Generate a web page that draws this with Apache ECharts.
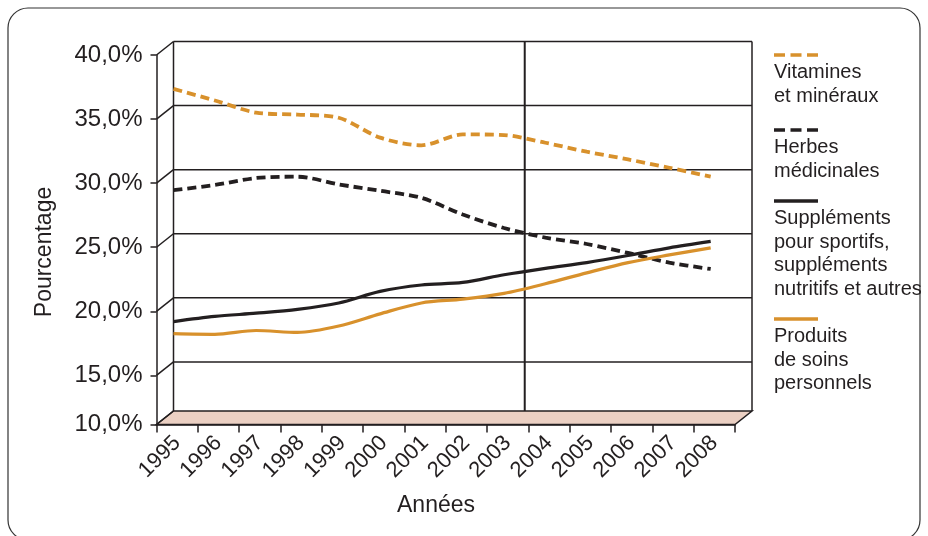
<!DOCTYPE html>
<html>
<head>
<meta charset="utf-8">
<script src="https://cdn.jsdelivr.net/npm/echarts@6/dist/echarts.min.js"></script>
<style>
  html, body { margin: 0; padding: 0; background: #ffffff; }
  #chart { width: 928px; height: 536px; }
</style>
</head>
<body>
<div id="chart"></div>
<script>
// Years on the horizontal axis
const years = ['1995', '1996', '1997', '1998', '1999', '2000', '2001',
               '2002', '2003', '2004', '2005', '2006', '2007', '2008'];

// Share of each product family (%)
const vitamines   = [36.3, 35.4, 34.45, 34.3, 34.05, 32.5, 31.9, 32.75, 32.7, 32.1, 31.4, 30.8, 30.15, 29.45];
const herbes      = [28.4, 28.8, 29.35, 29.45, 28.85, 28.35, 27.8, 26.5, 25.45, 24.7, 24.2, 23.5, 22.75, 22.25];
const supplements = [18.15, 18.55, 18.8, 19.1, 19.6, 20.5, 21.0, 21.2, 21.8, 22.3, 22.75, 23.3, 23.9, 24.4];
const produits    = [17.2, 17.15, 17.45, 17.3, 17.8, 18.75, 19.6, 19.9, 20.35, 21.1, 21.95, 22.75, 23.35, 23.9];

// Vertical scale: the floor of the box carries the "10,0%" mark
const yFloor = 11.17;
const yMax = 40;
const yTickValues = [yFloor, 15, 20, 25, 30, 35, 40];
const yTickLabels = ['10,0%', '15,0%', '20,0%', '25,0%', '30,0%', '35,0%', '40,0%'];

// Axis titles
const xTitle = 'Années';
const yTitle = 'Pourcentage';

// Position of the vertical divider on the back wall (in year units)
const dividerYear = 2003.5;

const INK = '#231f20';
const ORANGE = '#d8912c';
const FLOOR = '#ebd0c3';
const FONT = '"Liberation Sans", Arial, Helvetica, sans-serif';

// Back wall and front plane of the pseudo-3D box
const back  = { left: 173.5, top: 41.5, width: 578.5, height: 369.5 };
const depth = { dx: 17, dy: 13.5 };
const front = { left: back.left - depth.dx, top: back.top + depth.dy, width: back.width, height: back.height };

const yearNums = years.map(Number);
const pairs = arr => yearNums.map((y, i) => [y, arr[i]]);

const chart = echarts.init(document.getElementById('chart'), null, { renderer: 'canvas' });

const dashed = [9, 5];

chart.setOption({
  animation: false,
  backgroundColor: '#ffffff',
  textStyle: { fontFamily: FONT, color: INK },
  grid: [
    { left: back.left, top: back.top, width: back.width, height: back.height },
    { left: front.left, top: front.top, width: front.width, height: front.height }
  ],
  xAxis: [
    { gridIndex: 0, type: 'value', min: 1995, max: 2009, show: false },
    {
      gridIndex: 1, type: 'category', data: years, boundaryGap: true,
      axisLine: { show: true, lineStyle: { color: INK, width: 1.5 } },
      axisTick: { show: true, alignWithLabel: false, length: 8, lineStyle: { color: INK, width: 1.5 } },
      axisLabel: { rotate: 45, margin: 15, fontSize: 22, color: INK, fontFamily: FONT, interval: 0 },
      splitLine: { show: false }
    }
  ],
  yAxis: [
    { gridIndex: 0, type: 'value', min: yFloor, max: yMax, show: false },
    {
      gridIndex: 1, type: 'value', min: yFloor, max: yMax,
      axisLine: { show: true, lineStyle: { color: INK, width: 1.5 } },
      axisTick: { show: true, length: 6, customValues: yTickValues, lineStyle: { color: INK, width: 1.5 } },
      axisLabel: {
        customValues: yTickValues, margin: 14, fontSize: 24, color: INK, fontFamily: FONT,
        padding: [0, 0, 14, 0],
        formatter: v => {
          const i = yTickValues.findIndex(t => Math.abs(t - v) < 1e-6);
          return i >= 0 ? yTickLabels[i] : '';
        }
      },
      splitLine: { show: false }
    }
  ],
  series: [
    { name: 'Vitamines et minéraux', type: 'line', xAxisIndex: 0, yAxisIndex: 0, data: pairs(vitamines),
      smooth: 0.3, symbol: 'none', z: 5, lineStyle: { color: ORANGE, width: 3.8, type: dashed } },
    { name: 'Herbes médicinales', type: 'line', xAxisIndex: 0, yAxisIndex: 0, data: pairs(herbes),
      smooth: 0.3, symbol: 'none', z: 5, lineStyle: { color: INK, width: 3.8, type: dashed } },
    { name: 'Suppléments pour sportifs, suppléments nutritifs et autres', type: 'line', xAxisIndex: 0, yAxisIndex: 0,
      data: pairs(supplements), smooth: 0.3, symbol: 'none', z: 5, lineStyle: { color: INK, width: 3.2 } },
    { name: 'Produits de soins personnels', type: 'line', xAxisIndex: 0, yAxisIndex: 0, data: pairs(produits),
      smooth: 0.3, symbol: 'none', z: 5, lineStyle: { color: ORANGE, width: 3.2 } }
  ]
});

// Box frame: floor, back wall edges, grid lines and the depth connectors
const backRight = back.left + back.width;
const backBottom = back.top + back.height;
const frontRight = front.left + front.width;
const frontBottom = front.top + front.height;
const line = (x1, y1, x2, y2, w) => ({
  type: 'line', z: 1, silent: true,
  shape: { x1, y1, x2, y2 },
  style: { stroke: INK, lineWidth: w || 1.5 }
});

const frame = [];
frame.push({
  type: 'polygon', z: 0, silent: true,
  shape: { points: [[front.left, frontBottom], [frontRight, frontBottom], [backRight, backBottom], [back.left, backBottom]] },
  style: { fill: FLOOR, stroke: INK, lineWidth: 1.5 }
});
frame.push(line(back.left, back.top, back.left, backBottom));
frame.push(line(backRight, back.top, backRight, backBottom));
const divX = chart.convertToPixel({ xAxisIndex: 0 }, dividerYear);
frame.push(line(divX, back.top, divX, backBottom, 2));
yTickValues.forEach(v => {
  const yb = chart.convertToPixel({ yAxisIndex: 0 }, v);
  if (v !== yFloor) frame.push(line(back.left, yb, backRight, yb));
  frame.push(line(front.left, yb + depth.dy, back.left, yb));
});

// Axis titles
frame.push({
  type: 'text', z: 3, silent: true, x: 45, y: 252, rotation: Math.PI / 2,
  style: { text: yTitle, font: '23px ' + FONT, fill: INK, textAlign: 'center', textVerticalAlign: 'middle' }
});
frame.push({
  type: 'text', z: 3, silent: true, x: 436, y: 506,
  style: { text: xTitle, font: '23px ' + FONT, fill: INK, textAlign: 'center', textVerticalAlign: 'middle' }
});

// Legend: a line sample above each (multi-line) label
const legendItems = [
  { color: ORANGE, dash: true,  lines: ['Vitamines', 'et minéraux'], y: 55 },
  { color: INK,    dash: true,  lines: ['Herbes', 'médicinales'], y: 130 },
  { color: INK,    dash: false, lines: ['Suppléments', 'pour sportifs,', 'suppléments', 'nutritifs et autres'], y: 201 },
  { color: ORANGE, dash: false, lines: ['Produits', 'de soins', 'personnels'], y: 319 }
];
const legendX = 774;
legendItems.forEach(it => {
  frame.push({
    type: 'line', z: 3, silent: true,
    shape: { x1: legendX, y1: it.y, x2: legendX + 44, y2: it.y },
    style: { stroke: it.color, lineWidth: 3.5, lineDash: it.dash ? [11, 5.5] : null }
  });
  frame.push({
    type: 'text', z: 3, silent: true, x: legendX, y: it.y + 6,
    style: { text: it.lines.join('\n'), font: '20px ' + FONT, fill: INK, lineHeight: 23.5, textVerticalAlign: 'top' }
  });
});

// Rounded outer border
frame.push({
  type: 'rect', z: 0, silent: true,
  shape: { x: 8, y: 8, width: 912, height: 532, r: 20 },
  style: { fill: null, stroke: '#333333', lineWidth: 1.2 }
});

chart.setOption({ graphic: frame });
</script>
</body>
</html>
